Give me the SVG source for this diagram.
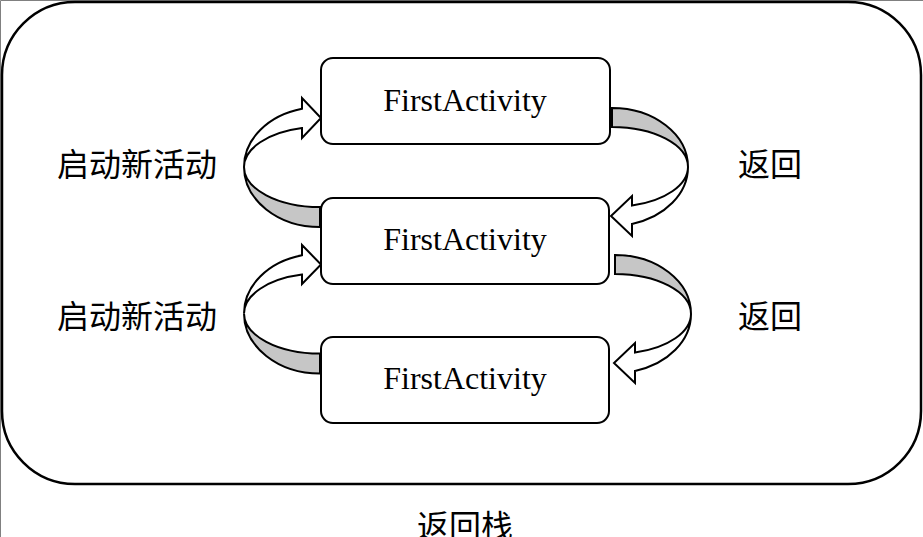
<svg xmlns="http://www.w3.org/2000/svg" width="923" height="537" viewBox="0 0 923 537">
<style>
.frame{fill:none;stroke:#808080;stroke-width:1}
.stack{fill:#fff;stroke:#000;stroke-width:2.5}
.box{fill:#fff;stroke:#000;stroke-width:2}
.back{fill:#c6c6c6;stroke:#000;stroke-width:2;stroke-linejoin:miter}
.front{fill:#fff;stroke:#000;stroke-width:2;stroke-linejoin:miter}
.t{font-family:"Liberation Serif","Times New Roman",serif;font-size:32px;fill:#000}
.c{font-family:"Liberation Serif","Noto Sans CJK SC",sans-serif;font-size:32px;fill:#000}
</style>
<rect width="923" height="537" fill="#fff"/>
<path class="frame" d="M0.5,537 V0.5 H923"/>
<g id="stack">
<rect class="stack" x="2" y="2" width="919" height="482" rx="73" ry="73"/>
<text class="c" x="417" y="538">返回栈</text>
</g>
<g id="connectors">
<path class="back" d="M320,227 A76,60 0 0 1 244,167 A76,40 0 0 0 320,207 Z"/>
<path class="front" d="M244,167 A76,60 0 0 1 302,108.7 L302,98 L321,118 L302,138 L302,128.1 A76,40 0 0 0 244,167 Z"/>
<path class="back" d="M320,373.5 A76,60 0 0 1 244,313.5 A76,40 0 0 0 320,353.5 Z"/>
<path class="front" d="M244,313.5 A76,60 0 0 1 302,255.2 L302,245 L321,264.5 L302,284 L302,274.6 A76,40 0 0 0 244,313.5 Z"/>
<path class="back" d="M612,108 A76,59 0 0 1 688,167 A76,40 0 0 0 612,127 Z"/>
<path class="front" d="M688,167 A76,59 0 0 1 632,223.9 L632,236 L611,216 L632,196 L632,205.6 A76,40 0 0 0 688,167 Z"/>
<path class="back" d="M615,255 A76,59 0 0 1 691,314 A76,40 0 0 0 615,274 Z"/>
<path class="front" d="M691,314 A76,59 0 0 1 635,370.9 L635,383 L614,363 L635,343 L635,352.6 A76,40 0 0 0 691,314 Z"/>
<text class="c" x="57" y="176">启动新活动</text>
<text class="c" x="57" y="328">启动新活动</text>
<text class="c" x="738" y="176">返回</text>
<text class="c" x="738" y="328">返回</text>
</g>
<g id="activity1">
<rect class="box" x="321" y="58" width="289" height="86" rx="12" ry="12"/>
<text class="t" x="465" y="111" text-anchor="middle">FirstActivity</text>
</g>
<g id="activity2">
<rect class="box" x="321" y="198" width="288" height="86" rx="12" ry="12"/>
<text class="t" x="465" y="250" text-anchor="middle">FirstActivity</text>
</g>
<g id="activity3">
<rect class="box" x="321" y="337" width="288" height="86" rx="12" ry="12"/>
<text class="t" x="465" y="389" text-anchor="middle">FirstActivity</text>
</g>
</svg>
